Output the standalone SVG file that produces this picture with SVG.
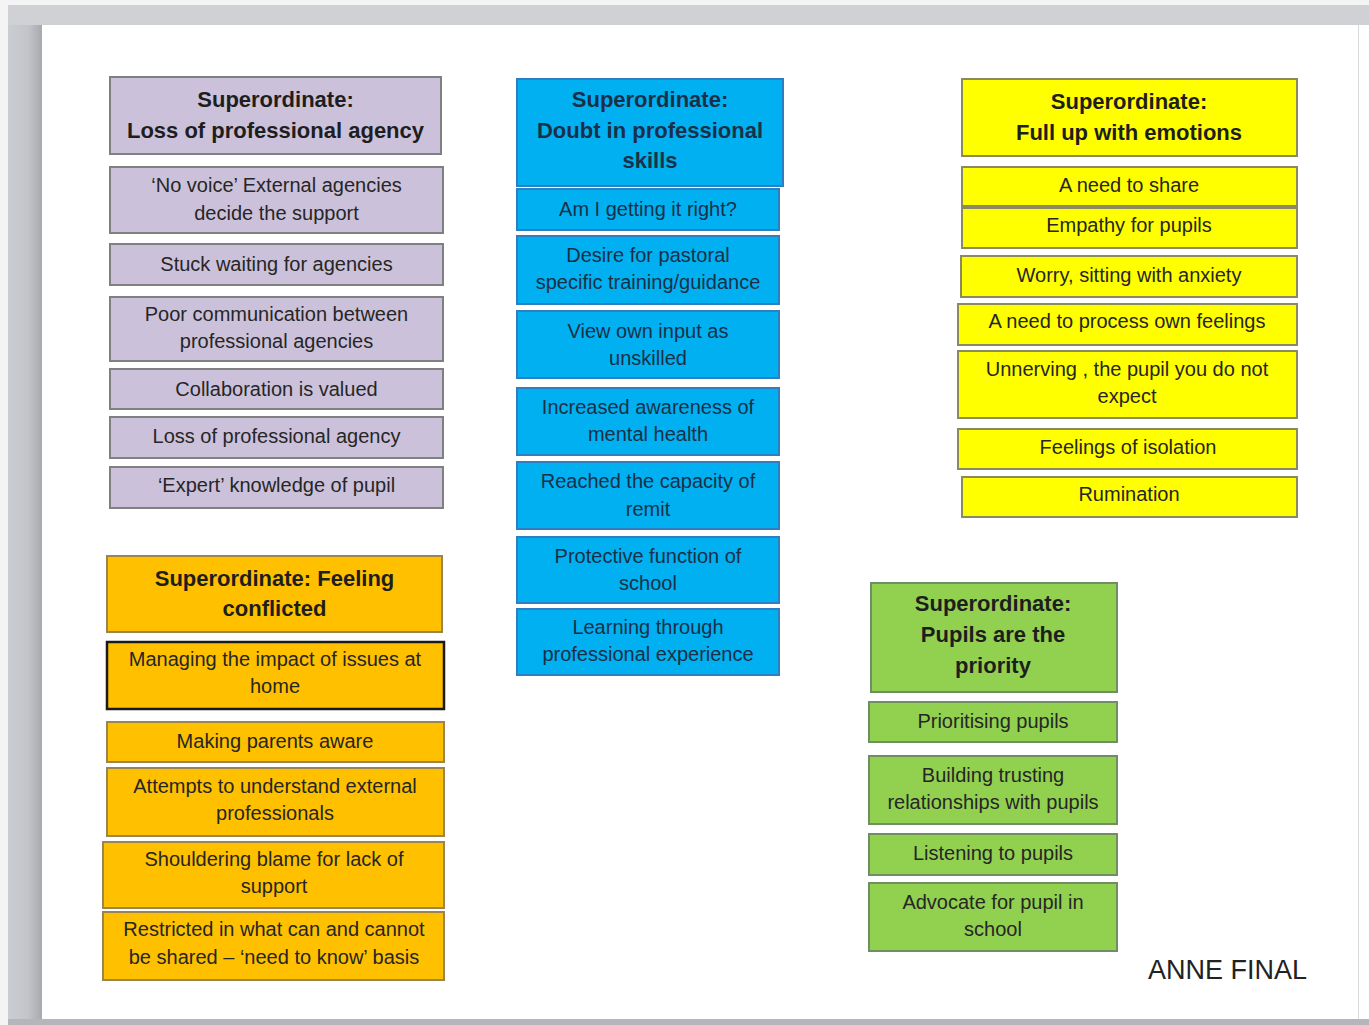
<svg xmlns="http://www.w3.org/2000/svg" width="1369" height="1025" viewBox="0 0 1369 1025">
<defs>
<linearGradient id="shadeL" x1="0" y1="0" x2="1" y2="0">
<stop offset="0" stop-color="#cbcdd2"/>
<stop offset="0.6" stop-color="#c2c4c9"/>
<stop offset="1" stop-color="#a7a9ae"/>
</linearGradient>
<linearGradient id="shadeT" x1="0" y1="0" x2="0" y2="1">
<stop offset="0" stop-color="#d0d1d5"/>
<stop offset="1" stop-color="#bcbec3"/>
</linearGradient>
</defs>
<style>
text{font-family:"Liberation Sans",Arial,sans-serif;font-size:20px;fill:#262626;text-anchor:middle}
text.h{font-weight:bold;font-size:22px;fill:#1e1e1e}
.pur rect{fill:#ccc1da;stroke:#808080;stroke-width:2}
.blu rect{fill:#00b0f0;stroke:#2f7fc0;stroke-width:2}
.blu text{fill:#1a3048}
.yel rect{fill:#ffff00;stroke:#8a8a5c;stroke-width:2}
.ora rect{fill:#ffc000;stroke:#9a8450;stroke-width:2}
.ora rect.dark{stroke:#1a1a1a;stroke-width:2.5}
.grn rect{fill:#92d050;stroke:#6f8f62;stroke-width:2}
</style>
<rect x="0" y="0" width="1369" height="1025" fill="#f4f4f5"/>
<rect x="8" y="5" width="1361" height="1020" fill="url(#shadeT)"/>
<rect x="8" y="25" width="34" height="1000" fill="url(#shadeL)"/>
<rect x="42" y="25" width="1327" height="994" fill="#ffffff"/>
<line x1="1358.5" y1="25" x2="1358.5" y2="1019" stroke="#d8d8dc" stroke-width="1"/>
<rect x="8" y="1019" width="1361" height="6" fill="#b4b6bb"/>

<g id="purple-header" class="pur">
<rect x="110" y="77" width="331" height="77"/>
<text class="h" x="275.5" y="107">Superordinate:</text>
<text class="h" x="275.5" y="138">Loss of professional agency</text>
</g>
<g id="purple-1" class="pur">
<rect x="110" y="167" width="333" height="66"/>
<text x="276.5" y="192">‘No voice’ External agencies</text>
<text x="276.5" y="220">decide the support</text>
</g>
<g id="purple-2" class="pur">
<rect x="110" y="244" width="333" height="41"/>
<text x="276.5" y="271">Stuck waiting for agencies</text>
</g>
<g id="purple-3" class="pur">
<rect x="110" y="297" width="333" height="64"/>
<text x="276.5" y="321">Poor communication between</text>
<text x="276.5" y="348">professional agencies</text>
</g>
<g id="purple-4" class="pur">
<rect x="110" y="369" width="333" height="40"/>
<text x="276.5" y="396">Collaboration is valued</text>
</g>
<g id="purple-5" class="pur">
<rect x="110" y="417" width="333" height="41"/>
<text x="276.5" y="443">Loss of professional agency</text>
</g>
<g id="purple-6" class="pur">
<rect x="110" y="467" width="333" height="41"/>
<text x="276.5" y="492">‘Expert’ knowledge of pupil</text>
</g>

<g id="blue-header" class="blu">
<rect x="517" y="79" width="266" height="107"/>
<text class="h" x="650" y="107">Superordinate:</text>
<text class="h" x="650" y="138">Doubt in professional</text>
<text class="h" x="650" y="168">skills</text>
</g>
<g id="blue-1" class="blu">
<rect x="517" y="189" width="262" height="41"/>
<text x="648" y="216">Am I getting it right?</text>
</g>
<g id="blue-2" class="blu">
<rect x="517" y="236" width="262" height="68"/>
<text x="648" y="262">Desire for pastoral</text>
<text x="648" y="289">specific training/guidance</text>
</g>
<g id="blue-3" class="blu">
<rect x="517" y="311" width="262" height="67"/>
<text x="648" y="338">View own input as</text>
<text x="648" y="365">unskilled</text>
</g>
<g id="blue-4" class="blu">
<rect x="517" y="388" width="262" height="67"/>
<text x="648" y="414">Increased awareness of</text>
<text x="648" y="441">mental health</text>
</g>
<g id="blue-5" class="blu">
<rect x="517" y="462" width="262" height="67"/>
<text x="648" y="488">Reached the capacity of</text>
<text x="648" y="516">remit</text>
</g>
<g id="blue-6" class="blu">
<rect x="517" y="537" width="262" height="66"/>
<text x="648" y="563">Protective function of</text>
<text x="648" y="590">school</text>
</g>
<g id="blue-7" class="blu">
<rect x="517" y="609" width="262" height="66"/>
<text x="648" y="634">Learning through</text>
<text x="648" y="661">professional experience</text>
</g>

<g id="yellow-header" class="yel">
<rect x="962" y="79" width="335" height="77"/>
<text class="h" x="1129" y="109">Superordinate:</text>
<text class="h" x="1129" y="140">Full up with emotions</text>
</g>
<g id="yellow-1" class="yel">
<rect x="962" y="167" width="335" height="39"/>
<text x="1129" y="192">A need to share</text>
</g>
<g id="yellow-2" class="yel">
<rect x="962" y="208" width="335" height="40"/>
<text x="1129" y="232">Empathy for pupils</text>
</g>
<g id="yellow-3" class="yel">
<rect x="961" y="256" width="336" height="41"/>
<text x="1129" y="282">Worry, sitting with anxiety</text>
</g>
<g id="yellow-4" class="yel">
<rect x="958" y="304" width="339" height="41"/>
<text x="1127" y="328">A need to process own feelings</text>
</g>
<g id="yellow-5" class="yel">
<rect x="958" y="351" width="339" height="67"/>
<text x="1127" y="376">Unnerving , the pupil you do not</text>
<text x="1127" y="403">expect</text>
</g>
<g id="yellow-6" class="yel">
<rect x="958" y="429" width="339" height="40"/>
<text x="1128" y="454">Feelings of isolation</text>
</g>
<g id="yellow-7" class="yel">
<rect x="962" y="477" width="335" height="40"/>
<text x="1129" y="501">Rumination</text>
</g>

<g id="orange-header" class="ora">
<rect x="107" y="556" width="335" height="76"/>
<text class="h" x="274.5" y="586">Superordinate: Feeling</text>
<text class="h" x="274.5" y="616">conflicted</text>
</g>
<g id="orange-1" class="ora">
<rect class="dark" x="107" y="642" width="337" height="67"/>
<text x="275" y="666">Managing the impact of issues at</text>
<text x="275" y="693">home</text>
</g>
<g id="orange-2" class="ora">
<rect x="107" y="722" width="337" height="40"/>
<text x="275" y="748">Making parents aware</text>
</g>
<g id="orange-3" class="ora">
<rect x="107" y="768" width="337" height="68"/>
<text x="275" y="793">Attempts to understand external</text>
<text x="275" y="820">professionals</text>
</g>
<g id="orange-4" class="ora">
<rect x="103" y="842" width="341" height="66"/>
<text x="274" y="866">Shouldering blame for lack of</text>
<text x="274" y="893">support</text>
</g>
<g id="orange-5" class="ora">
<rect x="103" y="912" width="341" height="68"/>
<text x="274" y="936">Restricted in what can and cannot</text>
<text x="274" y="964">be shared – ‘need to know’ basis</text>
</g>

<g id="green-header" class="grn">
<rect x="871" y="583" width="246" height="109"/>
<text class="h" x="993" y="611">Superordinate:</text>
<text class="h" x="993" y="642">Pupils are the</text>
<text class="h" x="993" y="673">priority</text>
</g>
<g id="green-1" class="grn">
<rect x="869" y="702" width="248" height="40"/>
<text x="993" y="728">Prioritising pupils</text>
</g>
<g id="green-2" class="grn">
<rect x="869" y="756" width="248" height="68"/>
<text x="993" y="782">Building trusting</text>
<text x="993" y="809">relationships with pupils</text>
</g>
<g id="green-3" class="grn">
<rect x="869" y="834" width="248" height="41"/>
<text x="993" y="860">Listening to pupils</text>
</g>
<g id="green-4" class="grn">
<rect x="869" y="883" width="248" height="68"/>
<text x="993" y="909">Advocate for pupil in</text>
<text x="993" y="936">school</text>
</g>

<g id="label">
<text x="1148" y="979" style="text-anchor:start;font-size:27px;fill:#222">ANNE FINAL</text>
</g>
</svg>
